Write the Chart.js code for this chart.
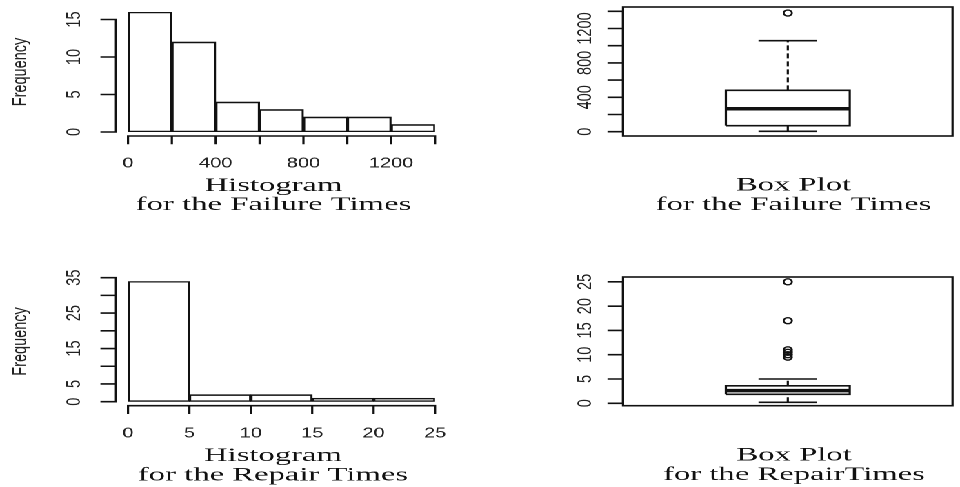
<!DOCTYPE html>
<html>
<head>
<meta charset="utf-8">
<script src="https://cdn.jsdelivr.net/npm/chart.js@4.4.1/dist/chart.umd.min.js"></script>
<style>
  html, body { margin: 0; padding: 0; background: #fff; }
  body { width: 960px; height: 487px; overflow: hidden; position: relative; }
  /* the reference is squeezed vertically, so the whole drawing is stretched sideways */
  #stage { position: absolute; left: 0; top: 0; width: 696px; height: 487px;
           transform: scale(1.3793, 1); transform-origin: 0 0; }
  #stage canvas { position: absolute; left: 0; top: 0; }
</style>
</head>
<body>
<div id="stage">
  <canvas id="failHist" width="696" height="487"></canvas>
  <canvas id="failBox" width="696" height="487"></canvas>
  <canvas id="repairHist" width="696" height="487"></canvas>
  <canvas id="repairBox" width="696" height="487"></canvas>
</div>
<script>
// FAILURE TIMES
const failureBinEdges = [0, 200, 400, 600, 800, 1000, 1200, 1400];
const failureCounts = [16, 12, 4, 3, 2, 2, 1];
// lower whisker, Q1, median, Q3, upper whisker
const failureBoxStats = [5, 70, 267, 481, 1058];
const failureOutliers = [1380];

// REPAIR TIMES
const repairBinEdges = [0, 5, 10, 15, 20, 25];
const repairCounts = [34, 2, 2, 1, 1];
const repairBoxStats = [0.2, 1.85, 2.6, 3.6, 5.0];
const repairOutliers = [9.5, 10, 10.5, 11, 17, 25];

// TICKS
const failHistYTicks = [0, 5, 10, 15];
const failHistXTicks = [0, 200, 400, 600, 800, 1000, 1200, 1400];
const failHistXLabels = [0, 400, 800, 1200];
const repairHistYTicks = [0, 5, 10, 15, 20, 25, 30, 35];
const repairHistYLabels = [0, 5, 15, 25, 35];
const repairHistXTicks = [0, 5, 10, 15, 20, 25];
const failBoxYTicks = [0, 200, 400, 600, 800, 1000, 1200, 1400];
const failBoxYLabels = [0, 400, 800, 1200];
const repairBoxYTicks = [0, 5, 10, 15, 20, 25];

const failHistTitle = ["Histogram", "for the Failure Times"];
const failBoxTitle = ["Box Plot", "for the Failure Times"];
const repairHistTitle = ["Histogram", "for the Repair Times"];
const repairBoxTitle = ["Box Plot", "for the RepairTimes"];

// STYLE
const INK = "#111";
const TICK_INK = "#222";
const LINE_W = 1.6;
const SANS = "'Liberation Sans', Arial, sans-serif";
const SERIF = "'Liberation Serif', 'Times New Roman', serif";
const TICK_SIZE = 14.5;
const TITLE_SIZE = 18.5;
const TITLE_STRETCH = 1.28;
const BOX_HALF = 0.188;
const CAP_HALF = 0.089;

Chart.defaults.animation = false;

// R-like detached axes, drawn from the chart's own scales
function rAxes(cfg) {
  return {
    id: "rAxes",
    afterDraw(chart) {
      const { ctx, chartArea: a } = chart;
      const xs = chart.scales.x, ys = chart.scales.y;
      ctx.save();
      ctx.strokeStyle = INK;
      ctx.lineWidth = LINE_W;
      ctx.lineCap = "square";

      if (cfg.frame) ctx.strokeRect(a.left, a.top, a.right - a.left, a.bottom - a.top);

      // y axis
      const yx = cfg.frame ? a.left : a.left - 8.7;
      const yt = cfg.yTicks;
      ctx.beginPath();
      ctx.moveTo(yx, ys.getPixelForValue(yt[0]));
      ctx.lineTo(yx, ys.getPixelForValue(yt[yt.length - 1]));
      yt.forEach(v => {
        const p = ys.getPixelForValue(v);
        ctx.moveTo(yx, p);
        ctx.lineTo(yx - 10.5, p);
      });
      ctx.stroke();

      ctx.fillStyle = TICK_INK;
      ctx.font = `${TICK_SIZE}px ${SANS}`;
      ctx.textAlign = "center";
      ctx.textBaseline = "middle";
      cfg.yLabels.forEach(v => {
        ctx.save();
        ctx.translate(yx - cfg.yLabelGap, ys.getPixelForValue(v));
        ctx.rotate(-Math.PI / 2);
        ctx.fillText(String(v), 0, 0);
        ctx.restore();
      });

      if (cfg.yTitle) {
        ctx.save();
        ctx.translate(15.2, (a.top + a.bottom) / 2);
        ctx.rotate(-Math.PI / 2);
        ctx.fillText(cfg.yTitle, 0, 0);
        ctx.restore();
      }

      // x axis
      if (cfg.xTicks) {
        const xt = cfg.xTicks;
        const ay = a.bottom + 4;
        ctx.beginPath();
        ctx.moveTo(xs.getPixelForValue(xt[0]), ay);
        ctx.lineTo(xs.getPixelForValue(xt[xt.length - 1]), ay);
        xt.forEach(v => {
          const p = xs.getPixelForValue(v);
          ctx.moveTo(p, ay);
          ctx.lineTo(p, ay + 7.5);
        });
        ctx.stroke();
        cfg.xLabels.forEach(v => {
          ctx.fillText(String(v), xs.getPixelForValue(v), a.bottom + 31.7);
        });
      }

      // two-line caption under the panel
      ctx.fillStyle = INK;
      ctx.font = `${TITLE_SIZE}px ${SERIF}`;
      ctx.textBaseline = "alphabetic";
      cfg.title.forEach((t, i) => {
        ctx.save();
        ctx.translate(cfg.titleX, a.bottom + cfg.titleBase[i]);
        ctx.scale(TITLE_STRETCH, 1);
        ctx.fillText(t, 0, 0);
        ctx.restore();
      });
      ctx.restore();
    }
  };
}

function histChart(id, edges, counts, padding, axes) {
  const step = edges[1] - edges[0];
  return new Chart(document.getElementById(id), {
    type: "bar",
    data: {
      datasets: [{
        data: counts.map((c, i) => ({ x: (edges[i] + edges[i + 1]) / 2, y: c })),
        backgroundColor: "#fff",
        borderColor: INK,
        borderWidth: LINE_W,
        borderSkipped: false,
        barPercentage: 1,
        categoryPercentage: 1
      }]
    },
    options: {
      responsive: false,
      devicePixelRatio: 2,
      events: [],
      layout: { padding },
      plugins: { legend: { display: false }, tooltip: { enabled: false } },
      scales: {
        x: { type: "linear", display: false, offset: false, min: edges[0], max: edges[edges.length - 1],
             ticks: { stepSize: step } },
        y: { display: false, min: 0, max: Math.max(...counts) }
      }
    },
    plugins: [rAxes(axes)]
  });
}

function boxDatasets(stats, outliers) {
  const [lo, q1, med, q3, hi] = stats;
  const seg = (pts, extra) => Object.assign({
    data: pts, showLine: true, pointRadius: 0, borderColor: INK,
    borderWidth: LINE_W, borderJoinStyle: "miter", tension: 0
  }, extra || {});
  return [
    seg([{ x: 1 - BOX_HALF, y: q1 }, { x: 1 + BOX_HALF, y: q1 }, { x: 1 + BOX_HALF, y: q3 },
         { x: 1 - BOX_HALF, y: q3 }, { x: 1 - BOX_HALF, y: q1 }]),
    seg([{ x: 1 - BOX_HALF, y: med }, { x: 1 + BOX_HALF, y: med }], { borderWidth: 3.5 }),
    seg([{ x: 1, y: q3 }, { x: 1, y: hi }], { borderDash: [5, 3] }),
    seg([{ x: 1, y: lo }, { x: 1, y: q1 }], { borderDash: [5, 3] }),
    seg([{ x: 1 - CAP_HALF, y: hi }, { x: 1 + CAP_HALF, y: hi }]),
    seg([{ x: 1 - CAP_HALF, y: lo }, { x: 1 + CAP_HALF, y: lo }]),
    {
      data: outliers.map(v => ({ x: 1, y: v })),
      showLine: false, pointRadius: 3, pointBorderWidth: 1.4,
      pointBackgroundColor: "rgba(0,0,0,0)", pointBorderColor: INK
    }
  ];
}

function boxChart(id, stats, outliers, yMin, yMax, padding, axes) {
  return new Chart(document.getElementById(id), {
    type: "scatter",
    data: { datasets: boxDatasets(stats, outliers) },
    options: {
      responsive: false,
      devicePixelRatio: 2,
      events: [],
      layout: { padding },
      plugins: { legend: { display: false }, tooltip: { enabled: false } },
      scales: {
        x: { type: "linear", display: false, min: 0.5, max: 1.5 },
        y: { type: "linear", display: false, min: yMin, max: yMax }
      }
    },
    plugins: [rAxes(axes)]
  });
}

histChart("failHist", failureBinEdges, failureCounts,
  { left: 92.8, right: 380.6, top: 12, bottom: 355 },
  { yTicks: failHistYTicks, yLabels: failHistYTicks, yLabelGap: 30, yTitle: "Frequency",
    xTicks: failHistXTicks, xLabels: failHistXLabels,
    title: failHistTitle, titleX: 198.3, titleBase: [59, 78] });

boxChart("failBox", failureBoxStats, failureOutliers, -50, 1450,
  { left: 451.7, right: 3.6, top: 7, bottom: 351 },
  { frame: true, yTicks: failBoxYTicks, yLabels: failBoxYLabels, yLabelGap: 27,
    title: failBoxTitle, titleX: 575.3, titleBase: [54.5, 74] });

histChart("repairHist", repairBinEdges, repairCounts,
  { left: 92.8, right: 380.6, top: 281.2, bottom: 85.3 },
  { yTicks: repairHistYTicks, yLabels: repairHistYLabels, yLabelGap: 30, yTitle: "Frequency",
    xTicks: repairHistXTicks, xLabels: repairHistXTicks,
    title: repairHistTitle, titleX: 197.9, titleBase: [59.5, 79] });

boxChart("repairBox", repairBoxStats, repairOutliers, -0.5, 26,
  { left: 451.7, right: 3.6, top: 277, bottom: 81.3 },
  { frame: true, yTicks: repairBoxYTicks, yLabels: repairBoxYTicks, yLabelGap: 27,
    title: repairBoxTitle, titleX: 575.7, titleBase: [55, 74.5] });
</script>
</body>
</html>
